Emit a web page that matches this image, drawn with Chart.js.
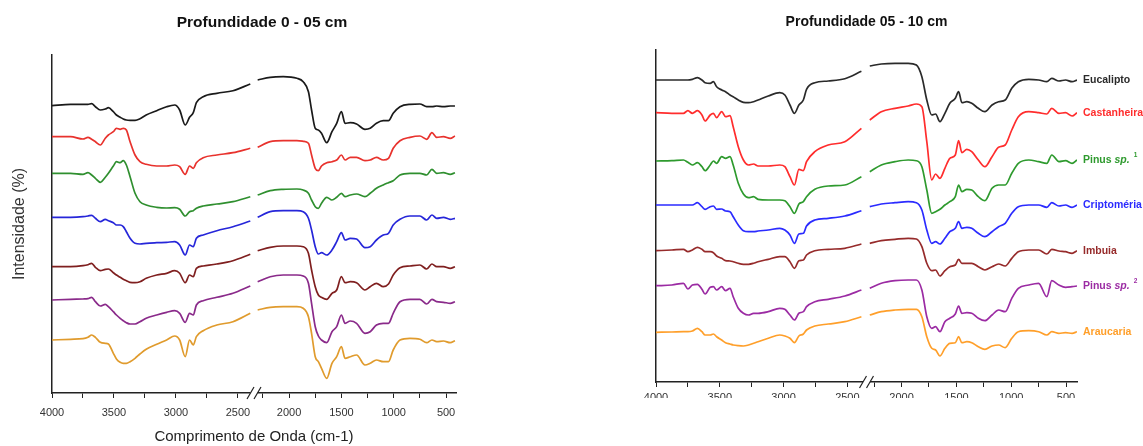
<!DOCTYPE html>
<html lang="pt-BR">
<head>
<meta charset="utf-8">
<title>Espectros FTIR por profundidade</title>
<script src="https://cdn.jsdelivr.net/npm/chart.js@4/dist/chart.umd.min.js"></script>
<style>
  body { margin: 0; background: #fff; }
  .painel { position: absolute; top: 0; }
</style>
</head>
<body>
<div class="painel" style="left:0;width:470px;height:446px"><canvas id="grafico05" width="470" height="446"></canvas></div>
<div class="painel" style="left:600px;width:543px;height:398px;overflow:hidden"><canvas id="grafico10" width="543" height="446"></canvas></div>
<script>
// Espécies (mesma ordem de cima para baixo nos dois painéis)
const especies = ['Eucalipto', 'Castanheira', 'Pinus sp.', 'Criptoméria', 'Imbuia', 'Pinus sp.', 'Araucaria'];
const sobrescritos = ['', '', '1', '', '', '2', ''];

// ---- Profundidade 0 - 05 cm ----
// número de onda (cm-1), trecho 4000-2400 e trecho 2300-400
const onda05A = [4000, 3850, 3750, 3710, 3680, 3650, 3610, 3570, 3545, 3505, 3480, 3450, 3425, 3400, 3370, 3330, 3290, 3240, 3155, 3075, 3010, 2970, 2925, 2890, 2860, 2835, 2780, 2670, 2540, 2400];
const onda05B = [2300, 2180, 2055, 1925, 1865, 1815, 1785, 1750, 1720, 1690, 1640, 1590, 1545, 1500, 1465, 1415, 1355, 1275, 1225, 1165, 1100, 1050, 1005, 940, 845, 750, 685, 635, 590, 525, 460, 415];

// intensidade (u.a., já com o deslocamento vertical de cada curva)
const eucalipto05A = [287.3, 288.7, 288.7, 288.7, 289.3, 286.3, 283, 284, 285.3, 281.3, 278, 275.7, 274, 273, 272.7, 272.7, 274.3, 278, 282.3, 286.3, 288, 283, 268, 275.7, 280.3, 290.3, 296.3, 299.7, 302.3, 309];
const castanheira05A = [256.3, 256.3, 254, 255.7, 253.7, 251.3, 248, 254.7, 258, 261.3, 264.7, 263.7, 264.7, 263, 251.3, 238, 231.3, 228.7, 227, 227, 228, 226.3, 218.7, 227, 224.7, 230.3, 235.3, 238, 240.3, 244.7];
const pinus1_05A = [219.7, 219.7, 218.7, 220.3, 218, 214.7, 210.7, 215.7, 219.7, 227, 231.3, 230.3, 232.3, 228, 216.3, 199.7, 191.3, 188, 185.7, 185, 185.3, 183.7, 177, 181.3, 182.3, 184.7, 187, 189, 191.3, 196.3];
const cripto05A = [175.7, 175.7, 176.3, 177, 177.7, 174.7, 171.3, 173.7, 172.3, 170.3, 168, 168, 166.3, 161.3, 154.7, 149.7, 149, 149.7, 150.3, 150.7, 151.3, 148, 138, 148, 146.3, 154.7, 158, 162.3, 166.3, 172];
const imbuia05A = [126.3, 126.3, 127.3, 128.3, 129.7, 125.7, 122.3, 123.7, 124, 120.3, 118, 115.7, 113.7, 112.3, 110.7, 110.3, 111.3, 114.7, 118, 119.7, 122.3, 119.7, 110.3, 118, 116.3, 124.7, 127, 129, 132.3, 138.7];
const pinus2_05A = [93, 93.7, 94, 94.3, 95.7, 91.3, 87, 88.7, 86.3, 81.3, 78, 74.7, 72.3, 70.3, 69, 69, 71.3, 74.7, 78, 80.7, 82.3, 79.7, 70.7, 79.7, 78, 88, 92.3, 95.7, 99.7, 107];
const araucaria05A = [53, 53.7, 54.3, 55.7, 58, 55.7, 50.7, 49.7, 49, 39.7, 34, 30.7, 29.7, 29.7, 31.3, 34.7, 39, 43.7, 48.7, 53, 57, 53, 36.3, 53, 48, 56.3, 62.3, 68, 71.3, 79.7];

const eucalipto05B = [313, 315.7, 316.3, 314.7, 311.3, 301.3, 283, 264.7, 263, 259.7, 250.3, 261.3, 269.7, 281.3, 269.7, 270.3, 269, 263.7, 264.7, 269.7, 272.3, 272.3, 279.7, 286.3, 288.7, 289, 286.3, 286.3, 287, 286.3, 287, 287];
const castanheira05B = [245.7, 251.3, 252.3, 252.3, 251.7, 249.7, 238, 224.7, 222.3, 227, 230.3, 231.3, 233, 238, 233, 235.7, 235.7, 232.3, 233, 235.7, 233, 234.7, 244.7, 252.3, 255.7, 257, 253.7, 260.3, 255.7, 256.3, 254.7, 257];
const pinus1_05B = [198, 202.3, 203.7, 204, 203, 199.7, 193, 186.3, 184.7, 189.7, 195.7, 193, 195.7, 199.7, 196.3, 198, 199, 196.3, 199.7, 204.7, 208, 210.3, 212.3, 218, 219.7, 219.7, 218, 223.7, 219.7, 220.3, 218.7, 220.3];
const cripto05B = [175.7, 181.3, 182.3, 182.3, 181.3, 174.7, 163, 146.3, 139, 140.3, 138, 143, 151.3, 160.3, 153, 154.7, 154, 145.3, 146.3, 153, 158, 159.7, 168, 173.7, 177, 177, 173, 178, 174.7, 175.7, 173.7, 174.7];
const imbuia05B = [142.3, 145.7, 147, 147, 146.3, 139.7, 123, 106.3, 98, 95.7, 93.7, 99.7, 103, 116.3, 110.3, 111.3, 110.3, 103, 106.3, 109.7, 106.3, 109, 118, 125.3, 127, 128, 124, 129, 126.3, 126.3, 124.7, 126.3];
const pinus2_05B = [111.3, 116.3, 118, 118, 117, 109.7, 89.7, 66.3, 57, 53, 50.3, 61.3, 66.3, 78, 69.7, 72, 69.7, 59.7, 61.3, 68, 69.7, 69.7, 79.7, 91.3, 93.7, 93.7, 89, 93.7, 91.3, 90.7, 89.7, 91.3];
const araucaria05B = [83, 85.7, 86.3, 86.3, 84.7, 76.3, 59.7, 36.3, 31.3, 24.7, 14.7, 29.7, 36.3, 46.3, 34.7, 36.3, 38, 28, 29.7, 33, 31.3, 31.3, 43, 53, 54.7, 53.7, 50.3, 53, 51.3, 52, 50.3, 52.3];

// ---- Profundidade 05 - 10 cm ----
const onda10A = [4000, 3875, 3785, 3750, 3715, 3675, 3640, 3615, 3575, 3550, 3525, 3485, 3455, 3420, 3395, 3355, 3315, 3275, 3235, 3200, 3120, 3030, 2990, 2950, 2915, 2880, 2845, 2820, 2755, 2650, 2520, 2390];
const onda10B = [2290, 2185, 2060, 1940, 1865, 1815, 1770, 1725, 1690, 1650, 1605, 1560, 1510, 1480, 1450, 1405, 1360, 1300, 1240, 1175, 1115, 1055, 995, 935, 840, 750, 675, 630, 565, 505, 445, 400];

const eucalipto10A = [302, 302, 302, 302, 302.7, 304.3, 302, 299.3, 298.7, 300.3, 295.3, 292, 290.3, 287, 285.3, 282, 279.7, 279.3, 280.3, 282, 286, 289.3, 287, 277, 268.7, 277, 282, 292.7, 299.3, 301, 303.3, 310.7];
const castanheira10A = [269.3, 268.7, 268.7, 271.3, 268.7, 271.3, 267, 261, 267, 268.7, 264.3, 270.3, 265.3, 266.3, 255.3, 235.3, 222, 217, 218, 216, 216, 217, 215.3, 205.3, 197, 212.7, 211.3, 220.3, 230.3, 237, 240.3, 253.7];
const pinus1_10A = [221, 221.3, 222, 219.7, 217, 219.3, 215.3, 211.3, 217, 221, 218.7, 225.3, 223.7, 225.3, 217, 198.7, 188, 184.3, 185.3, 182.7, 182, 182, 181.3, 175.3, 168.7, 178, 180.3, 185.3, 192.7, 196, 197, 205.3];
const cripto10A = [177, 177, 177, 177, 177, 179.3, 175.3, 172.7, 175.3, 176, 172.7, 173, 171, 170.3, 165.3, 157, 151.3, 150.3, 150.3, 151, 152, 153.7, 152, 147, 138.7, 148, 148.7, 156, 162, 163.7, 166, 171.3];
const imbuia10A = [131.3, 132, 132.7, 130.3, 132, 134.7, 132.7, 130.3, 130.3, 129.3, 126, 123.7, 121.3, 121, 120.3, 118.7, 117.7, 117.7, 118.7, 120.3, 122.7, 125.3, 125.3, 120.3, 113.7, 121.3, 122, 127, 131.3, 132.7, 133.7, 138];
const pinus2_10A = [96.3, 97, 98.7, 93, 97, 97.7, 92.7, 88, 94.7, 95.3, 92, 95.3, 91.3, 93.7, 85.3, 73.7, 68.7, 67, 68.7, 68.7, 70.3, 73.7, 72.7, 67, 62, 68.7, 70.3, 75.3, 80.3, 82.7, 86, 92];
const araucaria10A = [49.7, 50, 50.3, 50.3, 51, 53.7, 50.3, 47, 47, 48, 45.3, 42, 39.3, 38, 37, 36.3, 36, 37, 38.7, 40.3, 43.7, 47, 46, 43.7, 39.3, 46, 48, 52, 56, 58, 60.3, 65.3];

const eucalipto10B = [316, 318, 318.7, 318.7, 317, 305.3, 282, 267, 268, 260.3, 268.7, 278.7, 283.7, 290.3, 279.3, 280.3, 278.7, 273.7, 270.3, 277, 280.3, 282, 293.7, 300.3, 302.7, 302, 300.3, 303.7, 301, 302, 300.3, 302];
const castanheira10B = [262, 270.3, 273.7, 276, 278, 275.3, 240.3, 202, 208, 203.7, 213.7, 223.7, 227, 241.3, 229.3, 232.7, 230.3, 222, 215.3, 225.3, 234.7, 237, 252, 265.3, 270.3, 269.3, 268, 273.7, 268.7, 269.3, 266, 269.3];
const pinus1_10B = [210.3, 217, 220.3, 222, 221.3, 215.3, 192, 168.7, 170.3, 172.7, 177, 180.3, 185.3, 197, 190.3, 192.7, 192, 185.3, 181.3, 193.7, 197, 197, 208.7, 218.7, 222, 220.3, 218.7, 227, 220.3, 221.3, 218.7, 222];
const cripto10B = [175.3, 178, 179.3, 180.3, 179.3, 172, 152, 138.7, 140.3, 138, 143.7, 150.3, 153.7, 160.3, 153.7, 154.7, 153.7, 148.7, 145.3, 150.3, 155.3, 158.7, 168.7, 175.3, 177, 177, 174.7, 179.3, 176, 177, 174.7, 177];
const imbuia10B = [138.7, 141.3, 142.7, 143.7, 143, 135.3, 118.7, 111.3, 112, 106, 111.3, 115.3, 117, 122.7, 118.7, 118.7, 118.7, 115.3, 112, 115.3, 118, 116, 123.7, 130.3, 132, 132, 128, 132.7, 131, 130.3, 128.7, 131.3];
const pinus2_10B = [93.7, 98.7, 101.3, 102, 102, 92, 65.3, 53.7, 55.3, 50.3, 60.3, 63.7, 68, 76, 68.7, 69.3, 68.7, 63.7, 61.3, 67, 72, 70.3, 83.7, 93.7, 97, 98.7, 85.3, 101.3, 97, 94.7, 95.3, 96];
const araucaria10B = [67, 70.3, 72, 72.7, 72.7, 65.3, 45.3, 33.7, 32, 26, 33.7, 38.7, 39.3, 45.3, 39.3, 40.3, 39.3, 35.3, 32.7, 36, 37, 34.3, 43.7, 50.3, 51.3, 50.3, 47, 50.3, 48.7, 49.3, 48.7, 50.3];

const cores05 = ['#1a1a1a', '#e8322d', '#2f8f2f', '#2626d9', '#7f1f1f', '#8a2a8a', '#e09b2d'];
const cores10 = ['#2a2a2a', '#ff2d2d', '#2e9a2e', '#2b2bff', '#962b2b', '#9b2ba3', '#ff9f2a'];

const FONTE = '"Liberation Sans", Arial, sans-serif';
Chart.defaults.font.family = FONTE;

function montarSeries(ondas, series, eixo, cores) {
    return series.map((valores, i) => ({
        label: especies[i],
        data: ondas.map((w, j) => ({ x: w, y: valores[j] })),
        xAxisID: eixo,
        borderColor: cores[i],
        borderWidth: 1.7,
        pointRadius: 0,
        cubicInterpolationMode: 'monotone',
        fill: false
    }));
}

// eixo x em dois trechos lado a lado (quebra entre ~2400 e ~2300)
function eixoX(min, max, pad) {
    return {
        type: 'linear', axis: 'x', position: 'bottom',
        stack: 'onda', stackWeight: 1, reverse: true,
        min: min, max: max,
        grid: { drawOnChartArea: false, drawTicks: true, tickLength: 5, color: '#222', tickWidth: 1 },
        border: { display: true, color: '#222', width: 1.5 },
        ticks: {
            stepSize: 250, autoSkip: false, includeBounds: false, maxRotation: 0,
            padding: pad, color: '#333', font: { size: 11 },
            callback: v => (v % 500 === 0 ? String(v) : '')
        }
    };
}

// título, rótulo do eixo x, marca de quebra e nomes das curvas
const textoPainel = {
    id: 'textoPainel',
    afterDraw(chart, args, opts) {
        const { ctx, chartArea } = chart;
        const xa = chart.scales.xa;
        const meio = (chartArea.left + chartArea.right) / 2;
        ctx.save();

        const bx = xa.right, by = xa.top;
        ctx.fillStyle = '#fff';
        ctx.fillRect(bx - 3.5, by - 2, 7, 4);
        ctx.strokeStyle = '#222';
        ctx.lineWidth = 1.2;
        [-3.5, 3.5].forEach(d => {
            ctx.beginPath();
            ctx.moveTo(bx + d - 3.5, by + 6);
            ctx.lineTo(bx + d + 3.5, by - 6);
            ctx.stroke();
        });

        ctx.textAlign = 'center';
        ctx.textBaseline = 'middle';
        ctx.fillStyle = '#111';
        ctx.font = 'bold ' + opts.tamTitulo + 'px ' + FONTE;
        ctx.fillText(opts.titulo, meio + opts.desvioTitulo, opts.yTitulo);

        if (opts.rotuloX) {
            ctx.fillStyle = '#222';
            ctx.font = '15px ' + FONTE;
            ctx.fillText(opts.rotuloX, meio, opts.yRotuloX);
        }

        if (opts.nomes) {
            const y = chart.scales.y;
            ctx.textAlign = 'left';
            chart.data.datasets.forEach((ds, i) => {
                if (ds.xAxisID !== 'xb') return;
                const k = i % especies.length;
                const ultimo = ds.data[ds.data.length - 1];
                let x = chartArea.right + 6;
                const py = y.getPixelForValue(ultimo.y);
                ctx.fillStyle = ds.borderColor;
                const nome = especies[k];
                if (nome.endsWith(' sp.')) {
                    const gen = nome.slice(0, -3);
                    ctx.font = 'bold 10.5px ' + FONTE;
                    ctx.fillText(gen, x, py);
                    x += ctx.measureText(gen).width;
                    ctx.font = 'italic bold 10.5px ' + FONTE;
                    ctx.fillText('sp.', x, py);
                    x += ctx.measureText('sp.').width + 4;
                } else {
                    ctx.font = 'bold 10.5px ' + FONTE;
                    ctx.fillText(nome, x, py);
                }
                if (sobrescritos[k]) {
                    ctx.font = 'bold 6.5px ' + FONTE;
                    ctx.fillText(sobrescritos[k], x, py - 5);
                }
            });
        }
        ctx.restore();
    }
};

function opcoesBase(padding, yMax) {
    return {
        responsive: false,
        animation: false,
        events: [],
        layout: { padding: padding },
        scales: {
            xa: null,
            xb: null,
            y: {
                min: 0, max: yMax,
                ticks: { display: false },
                grid: { display: false, drawTicks: false },
                border: { display: true, color: '#222', width: 1.5 }
            }
        },
        plugins: { legend: { display: false }, tooltip: { enabled: false } }
    };
}

// Profundidade 0 - 05 cm
const opcoes05 = opcoesBase({ left: 2, right: 14, top: 55, bottom: 18.8 }, 338);
opcoes05.scales.xa = eixoX(2370, 4000, 8);
opcoes05.scales.xb = eixoX(405, 2335, 8);
opcoes05.scales.y.title = {
    display: true, text: 'Intensidade (%)', color: '#333',
    font: { size: 16 }, padding: { top: 8, bottom: 22.8 }
};
opcoes05.plugins.textoPainel = {
    titulo: 'Profundidade 0 - 05 cm', tamTitulo: 15.5, yTitulo: 23, desvioTitulo: 8,
    rotuloX: 'Comprimento de Onda (cm-1)', yRotuloX: 437, nomes: false
};

new Chart(document.getElementById('grafico05'), {
    type: 'line',
    data: {
        datasets: [
            ...montarSeries(onda05A, [eucalipto05A, castanheira05A, pinus1_05A, cripto05A, imbuia05A, pinus2_05A, araucaria05A], 'xa', cores05),
            ...montarSeries(onda05B, [eucalipto05B, castanheira05B, pinus1_05B, cripto05B, imbuia05B, pinus2_05B, araucaria05B], 'xb', cores05)
        ]
    },
    options: opcoes05,
    plugins: [textoPainel]
});

// Profundidade 05 - 10 cm
const opcoes10 = opcoesBase({ left: 56, right: 66, top: 50, bottom: 37.8 }, 332);
opcoes10.scales.xa = eixoX(2350, 4000, 4);
opcoes10.scales.xb = eixoX(400, 2320, 4);
opcoes10.plugins.textoPainel = {
    titulo: 'Profundidade 05 - 10 cm', tamTitulo: 14, yTitulo: 22, desvioTitulo: 0,
    rotuloX: null, nomes: true
};

new Chart(document.getElementById('grafico10'), {
    type: 'line',
    data: {
        datasets: [
            ...montarSeries(onda10A, [eucalipto10A, castanheira10A, pinus1_10A, cripto10A, imbuia10A, pinus2_10A, araucaria10A], 'xa', cores10),
            ...montarSeries(onda10B, [eucalipto10B, castanheira10B, pinus1_10B, cripto10B, imbuia10B, pinus2_10B, araucaria10B], 'xb', cores10)
        ]
    },
    options: opcoes10,
    plugins: [textoPainel]
});
</script>
</body>
</html>
